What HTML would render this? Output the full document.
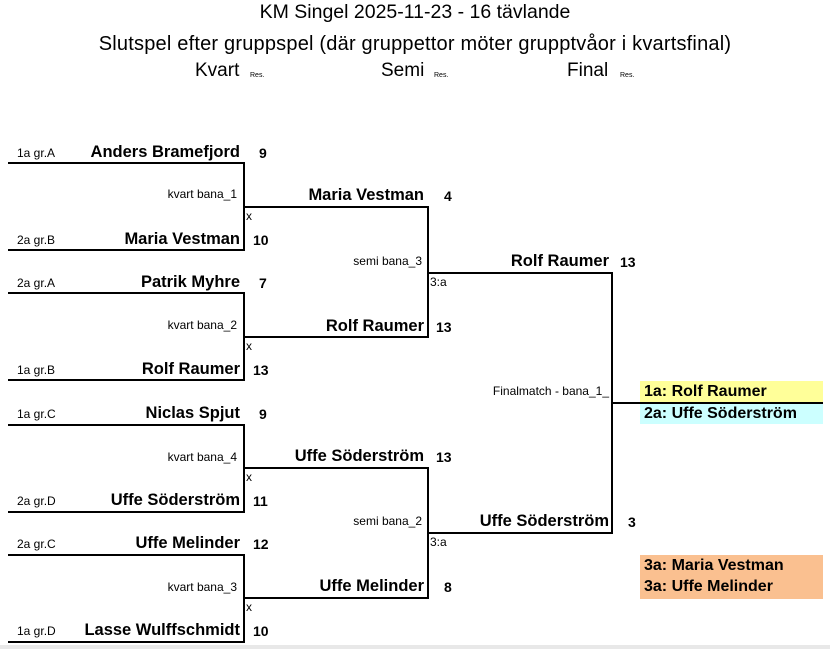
<!DOCTYPE html>
<html><head><meta charset="utf-8"><style>
body{margin:0;width:830px;height:649px;background:#fff;position:relative;overflow:hidden;font-family:"Liberation Sans",sans-serif;color:#000}
.h{position:absolute;height:2px;background:#000}
.v{position:absolute;width:2px;background:#000}
.t{position:absolute;white-space:nowrap;line-height:1}
.n{font-weight:bold;font-size:16.5px;text-align:right}
.s{font-weight:bold;font-size:14px}
.l{font-size:12px}
.hd{font-size:19px}
.res{font-size:7px}
.box{position:absolute;left:640px;width:183px;font-weight:bold;font-size:16px;line-height:21px;padding-left:4px;box-sizing:border-box}
</style></head><body>
<div class="t hd" style="left:0;width:830px;text-align:center;top:3px;font-size:19.5px">KM Singel 2025-11-23 - 16 tävlande</div>
<div class="t hd" style="left:0;width:830px;text-align:center;top:34px;font-size:20px;letter-spacing:0.2px">Slutspel efter gruppspel (där gruppettor möter grupptvåor i kvartsfinal)</div>
<div class="t hd" style="left:195px;top:61px">Kvart</div><div class="t res" style="left:250px;top:72px">Res.</div>
<div class="t hd" style="left:381px;top:61px">Semi</div><div class="t res" style="left:434px;top:72px">Res.</div>
<div class="t hd" style="left:567px;top:61px">Final</div><div class="t res" style="left:620px;top:72px">Res.</div>

<div class="h" style="left:8px;width:237px;top:162px"></div>
<div class="h" style="left:8px;width:237px;top:249px"></div>
<div class="v" style="left:243px;top:162px;height:89px"></div>
<div class="h" style="left:8px;width:237px;top:292px"></div>
<div class="h" style="left:8px;width:237px;top:379px"></div>
<div class="v" style="left:243px;top:292px;height:89px"></div>
<div class="h" style="left:8px;width:237px;top:424px"></div>
<div class="h" style="left:8px;width:237px;top:511px"></div>
<div class="v" style="left:243px;top:424px;height:89px"></div>
<div class="h" style="left:8px;width:237px;top:554px"></div>
<div class="h" style="left:8px;width:237px;top:641px"></div>
<div class="v" style="left:243px;top:554px;height:89px"></div>
<div class="h" style="left:243px;width:186px;top:206px"></div>
<div class="h" style="left:243px;width:186px;top:336px"></div>
<div class="v" style="left:427px;top:206px;height:132px"></div>
<div class="h" style="left:243px;width:186px;top:467px"></div>
<div class="h" style="left:243px;width:186px;top:597px"></div>
<div class="v" style="left:427px;top:467px;height:132px"></div>
<div class="h" style="left:427px;width:186px;top:272px"></div>
<div class="h" style="left:427px;width:186px;top:532px"></div>
<div class="v" style="left:611px;top:272px;height:262px"></div>
<div class="h" style="left:611px;width:212px;top:402px"></div>

<div class="box" style="top:381px;height:21px;background:#ffff99">1a: Rolf Raumer</div>
<div class="box" style="top:404px;height:20px;background:#ccffff;line-height:19px">2a: Uffe Söderström</div>
<div class="box" style="top:555px;height:44px;background:#fac090">3a: Maria Vestman<br>3a: Uffe Melinder</div>

<div class="t l" style="left:17px;top:147px">1a gr.A</div>
<div class="t n" style="right:590px;top:144px">Anders Bramefjord</div><div class="t s" style="left:259px;top:146px">9</div>
<div class="t l" style="right:593px;top:188px">kvart bana_1</div>
<div class="t l" style="left:246px;top:210px">x</div>
<div class="t l" style="left:17px;top:234px">2a gr.B</div>
<div class="t n" style="right:590px;top:231px">Maria Vestman</div><div class="t s" style="left:253px;top:233px">10</div>

<div class="t l" style="left:17px;top:277px">2a gr.A</div>
<div class="t n" style="right:590px;top:274px">Patrik Myhre</div><div class="t s" style="left:259px;top:276px">7</div>
<div class="t l" style="right:593px;top:319px">kvart bana_2</div>
<div class="t l" style="left:246px;top:340px">x</div>
<div class="t l" style="left:17px;top:364px">1a gr.B</div>
<div class="t n" style="right:590px;top:361px">Rolf Raumer</div><div class="t s" style="left:253px;top:363px">13</div>

<div class="t l" style="left:17px;top:408px">1a gr.C</div>
<div class="t n" style="right:590px;top:405px">Niclas Spjut</div><div class="t s" style="left:259px;top:407px">9</div>
<div class="t l" style="right:593px;top:451px">kvart bana_4</div>
<div class="t l" style="left:246px;top:471px">x</div>
<div class="t l" style="left:17px;top:495px">2a gr.D</div>
<div class="t n" style="right:590px;top:492px">Uffe Söderström</div><div class="t s" style="left:253px;top:494px">11</div>

<div class="t l" style="left:17px;top:538px">2a gr.C</div>
<div class="t n" style="right:590px;top:535px">Uffe Melinder</div><div class="t s" style="left:253px;top:537px">12</div>
<div class="t l" style="right:593px;top:581px">kvart bana_3</div>
<div class="t l" style="left:246px;top:601px">x</div>
<div class="t l" style="left:17px;top:625px">1a gr.D</div>
<div class="t n" style="right:590px;top:622px">Lasse Wulffschmidt</div><div class="t s" style="left:253px;top:624px">10</div>

<div class="t n" style="right:406px;top:187px">Maria Vestman</div><div class="t s" style="left:444px;top:189px">4</div>
<div class="t l" style="right:408px;top:255px">semi bana_3</div>
<div class="t l" style="left:430px;top:276px">3:a</div>
<div class="t n" style="right:406px;top:318px">Rolf Raumer</div><div class="t s" style="left:436px;top:320px">13</div>
<div class="t n" style="right:406px;top:448px">Uffe Söderström</div><div class="t s" style="left:436px;top:450px">13</div>
<div class="t l" style="right:408px;top:515px">semi bana_2</div>
<div class="t l" style="left:430px;top:536px">3:a</div>
<div class="t n" style="right:406px;top:578px">Uffe Melinder</div><div class="t s" style="left:444px;top:580px">8</div>

<div class="t n" style="right:221px;top:253px">Rolf Raumer</div><div class="t s" style="left:620px;top:255px">13</div>
<div class="t l" style="right:221px;top:385px">Finalmatch - bana_1_</div>
<div class="t n" style="right:221px;top:513px">Uffe Söderström</div><div class="t s" style="left:628px;top:515px">3</div>
<div style="position:absolute;left:0;top:645px;width:830px;height:4px;background:#e8e8e8"></div>
</body></html>
